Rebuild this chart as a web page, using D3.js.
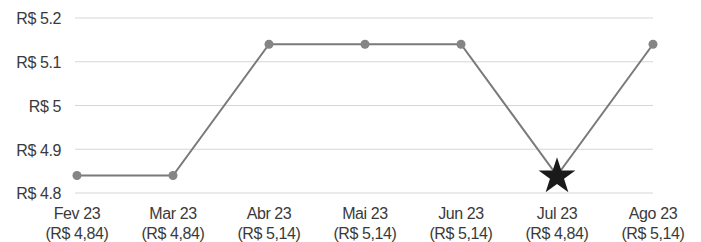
<!DOCTYPE html>
<html>
<head>
<meta charset="utf-8">
<script src="https://cdn.jsdelivr.net/npm/d3@7"></script>
<style>
  body { margin: 0; background: #fff; }
  text { font-family: "Liberation Sans", Arial, sans-serif; fill: #3a3a3a; }
</style>
</head>
<body>
<div id="chart"></div>
<script>
// data
const months = ["Fev 23", "Mar 23", "Abr 23", "Mai 23", "Jun 23", "Jul 23", "Ago 23"];
const prices = [4.84, 4.84, 5.14, 5.14, 5.14, 4.84, 5.14];
const priceLabels = ["(R$ 4,84)", "(R$ 4,84)", "(R$ 5,14)", "(R$ 5,14)", "(R$ 5,14)", "(R$ 4,84)", "(R$ 5,14)"];
const yTicks = [4.8, 4.9, 5.0, 5.1, 5.2];
const starMonth = "Jul 23";

const W = 701, H = 242;
const margin = { top: 18, right: 48, bottom: 49, left: 77 };

const svg = d3.select("#chart").append("svg")
    .attr("width", W)
    .attr("height", H);

const x = d3.scalePoint()
    .domain(months)
    .range([margin.left, W - margin.right]);

const y = d3.scaleLinear()
    .domain([4.8, 5.2])
    .range([H - margin.bottom, margin.top]);

// gridlines
svg.append("g")
    .selectAll("line")
    .data(yTicks)
    .join("line")
    .attr("x1", margin.left - 2)
    .attr("x2", W - margin.right)
    .attr("y1", d => y(d))
    .attr("y2", d => y(d))
    .attr("stroke", "#d6d6d6")
    .attr("stroke-width", 1);

// y axis labels
const yAxis = d3.axisLeft(y)
    .tickValues(yTicks)
    .tickSize(0)
    .tickPadding(16)
    .tickFormat(d => "R$ " + d3.format("")(+d.toFixed(1)));

svg.append("g")
    .attr("transform", `translate(${margin.left},0)`)
    .call(yAxis)
    .call(g => g.select(".domain").remove())
    .selectAll("text")
    .style("font-size", "16px")
    .style("font-family", "Liberation Sans, Arial, sans-serif")
    .style("letter-spacing", "-0.4px")
    .attr("fill", "#3a3a3a")
    .attr("dy", "0.36em");

// x axis labels (two lines)
const xLabels = svg.append("g")
    .selectAll("text")
    .data(months)
    .join("text")
    .attr("x", d => x(d))
    .attr("y", H - margin.bottom + 26)
    .attr("text-anchor", "middle")
    .style("font-size", "16px")
    .style("letter-spacing", "-0.4px");

xLabels.append("tspan")
    .attr("x", d => x(d))
    .text(d => d);

xLabels.append("tspan")
    .attr("x", d => x(d))
    .attr("dy", 20)
    .text((d, i) => priceLabels[i]);

// line
const line = d3.line()
    .x((d, i) => x(months[i]))
    .y(d => y(d));

svg.append("path")
    .datum(prices)
    .attr("d", line)
    .attr("fill", "none")
    .attr("stroke", "#7a7a7a")
    .attr("stroke-width", 2);

// markers
svg.append("g")
    .selectAll("circle")
    .data(prices.map((p, i) => ({ m: months[i], p })).filter(d => d.m !== starMonth))
    .join("circle")
    .attr("cx", d => x(d.m))
    .attr("cy", d => y(d.p))
    .attr("r", 4.5)
    .attr("fill", "#858585");

// star for the highlighted month
const si = months.indexOf(starMonth);
svg.append("path")
    .attr("d", d3.symbol().type(d3.symbolStar).size(420)())
    .attr("transform", `translate(${x(starMonth)},${y(prices[si]) + 1})`)
    .attr("fill", "#1a1a1a");
</script>
</body>
</html>
